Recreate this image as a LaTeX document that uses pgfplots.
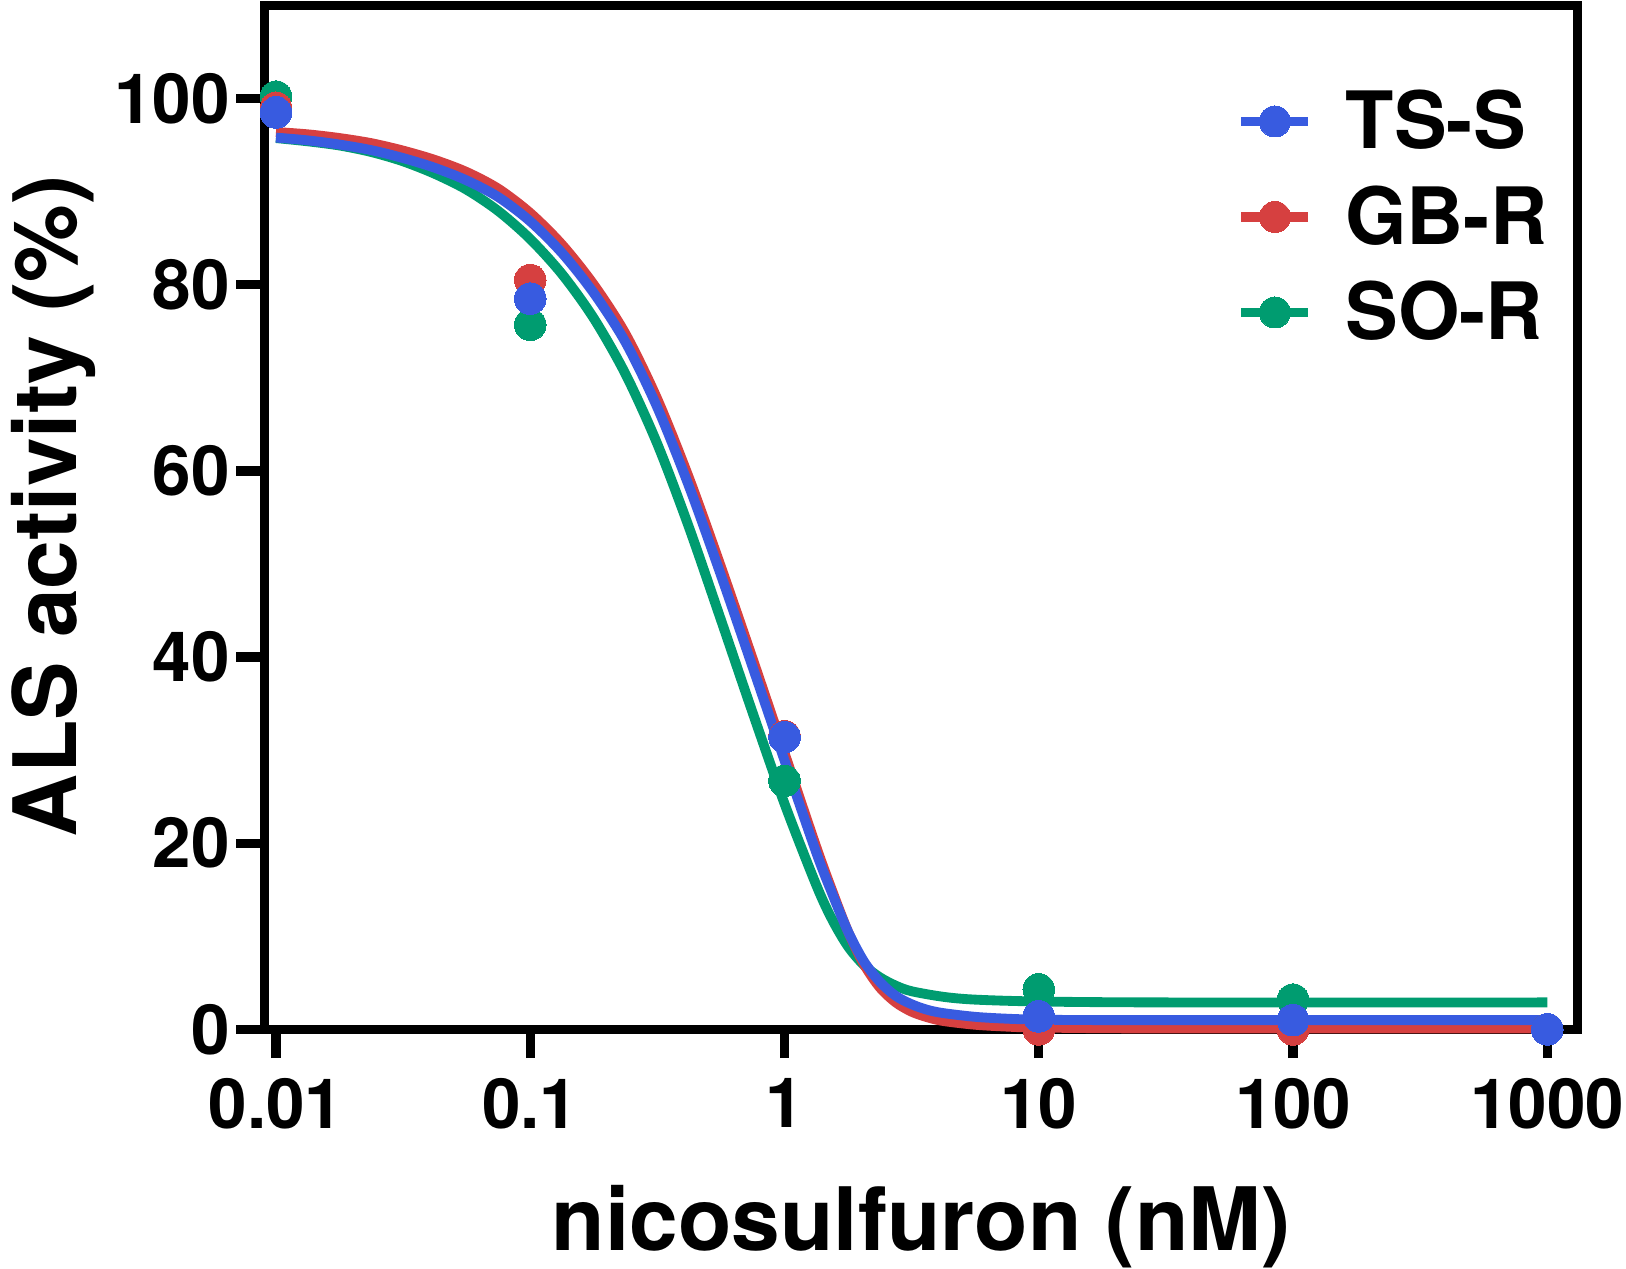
\documentclass[border=0pt]{standalone}
\usepackage{fontspec}
\setmainfont{TeX Gyre Heros}
\usepackage{pgfplots}
\pgfplotsset{compat=1.18}

\definecolor{tsblue}{RGB}{56,91,224}
\definecolor{gbred}{RGB}{214,64,64}
\definecolor{sogreen}{RGB}{0,156,112}

% fitted curves
\pgfplotstableread{
x y
0.01 95.8
0.013335 95.5
0.017783 95.05
0.023714 94.45
0.031623 93.6
0.04217 92.55
0.056234 91.2
0.074989 89.4
0.1 86.8
0.13335 83.4
0.17783 79.1
0.23714 73.8
0.31623 66.8
0.4217 58.3
0.56234 48.8
0.74989 38.9
1 28.9
1.3335 19.0
1.5399 14.6
1.7783 10.5
2.0535 7.3
2.3714 5.1
2.7384 3.6
3.1623 2.7
3.6517 2.1
4.217 1.75
5.6234 1.35
7.4989 1.15
10 1.05
17.783 1.0
100 1.0
1000 1.0
}\fitts
\pgfplotstableread{
x y
0.01 96.4
0.013335 96.15
0.017783 95.75
0.023714 95.2
0.031623 94.4
0.04217 93.4
0.056234 92.1
0.074989 90.3
0.1 87.7
0.13335 84.3
0.17783 80.0
0.23714 74.7
0.31623 67.7
0.4217 59.2
0.56234 49.7
0.74989 39.8
1 29.7
1.3335 19.6
1.5399 14.9
1.7783 10.5
2.0535 7.0
2.3714 4.5
2.7384 2.9
3.1623 1.9
3.6517 1.3
4.217 0.9
5.6234 0.5
7.4989 0.3
10 0.2
31.623 0.1
1000 0.1
}\fitgb
\pgfplotstableread{
x y
0.01 95.75
0.013335 95.4
0.017783 94.95
0.023714 94.25
0.031623 93.25
0.04217 91.9
0.056234 90.2
0.074989 87.9
0.1 84.9
0.13335 81.13
0.17783 76.38
0.23714 70.38
0.31623 62.88
0.4217 53.88
0.56234 44.0
0.74989 34.0
1 24.25
1.3335 15.5
1.5399 11.8
1.7783 8.9
2.0535 6.9
2.3714 5.6
2.7384 4.7
3.1623 4.1
4.217 3.5
5.6234 3.2
10 3.0
31.623 2.9
1000 2.9
}\fitso

\begin{document}
\begin{tikzpicture}
\begin{axis}[
  set layers,
  scale only axis,
  width=131.28mm, height=102.4mm,
  xmode=log,
  xmin=0.009028, xmax=1315,
  ymin=0, ymax=110,
  clip=false,
  xtick={0.01,0.1,1,10,100,1000},
  xticklabels={0.01,0.1,1,10,100,1000},
  ytick={0,20,40,60,80,100},
  yticklabels={0,20,40,60,80,100},
  xminorticks=false,
  xtick pos=bottom, ytick pos=left,
  tick align=outside,
  major tick length=2.87mm,
  axis line style={line width=2.65pt},
  every tick/.style={black, line width=2.65pt},
  ticklabel style={font=\fontsize{19.7}{20}\selectfont\bfseries},
  xticklabel style={yshift=-0.75mm},
  yticklabel style={xshift=0.6mm},
  every axis x label/.style={at={([yshift=-22.15mm]axis description cs:0.5,0)}, anchor=base},
  every axis y label/.style={at={([xshift=-18.77mm]axis description cs:0,0.5107)}, rotate=90, anchor=base},
  label style={font=\fontsize{24.9}{26}\selectfont\bfseries},
  xlabel={nicosulfuron (nM)},
  ylabel={ALS activity (\%)},
  legend style={at={(0.7397,0.9142)}, anchor=north west, draw=none, fill=none,
    inner sep=0pt, row sep=4.05mm,
    font=\fontsize{22.5}{22.5}\selectfont\bfseries,
    nodes={inner sep=0pt, text height=5.5mm, text depth=0pt},
    cells={anchor=west}},
  legend image code/.code={%
    \draw[mark repeat=2,mark phase=2,#1] plot coordinates {(0mm,0mm)(3.35mm,0mm)(6.7mm,0mm)};},
  every axis plot/.append style={line width=2.8pt},
]
\addlegendimage{tsblue, mark=*, mark size=1.55mm, mark options={line width=0pt, draw=tsblue, fill=tsblue}}
\addlegendentry{\hspace{3.2mm}TS-S}
\addlegendimage{gbred, mark=*, mark size=1.55mm, mark options={line width=0pt, draw=gbred, fill=gbred}}
\addlegendentry{\hspace{3.2mm}GB-R}
\addlegendimage{sogreen, mark=*, mark size=1.55mm, mark options={line width=0pt, draw=sogreen, fill=sogreen}}
\addlegendentry{\hspace{3.2mm}SO-R}

\addplot[sogreen, smooth, forget plot] table {\fitso};
\addplot[gbred, smooth, forget plot] table {\fitgb};
\addplot[tsblue, smooth, forget plot] table {\fitts};

\addplot[only marks, mark=*, color=sogreen, mark size=1.58mm, mark options={line width=0pt, draw=sogreen, fill=sogreen}, forget plot] coordinates {
(0.01,100.2) (0.1,75.7) (1,26.7) (10,4.3) (100,3.2) (1000,0)};
\addplot[only marks, mark=*, color=gbred, mark size=1.58mm, mark options={line width=0pt, draw=gbred, fill=gbred}, forget plot] coordinates {
(0.01,99.0) (0.1,80.5) (1,31.5) (10,0) (100,0) (1000,0)};
\addplot[only marks, mark=*, color=tsblue, mark size=1.58mm, mark options={line width=0pt, draw=tsblue, fill=tsblue}, forget plot] coordinates {
(0.01,98.5) (0.1,78.5) (1,31.4) (10,1.4) (100,1.0) (1000,0)};

\coordinate (bl) at (rel axis cs:0,0);
\coordinate (tr) at (rel axis cs:1,1);
\end{axis}
\pgfresetboundingbox
\path[use as bounding box] ([xshift=-26.47mm,yshift=-23.95mm]bl) rectangle ([xshift=4.85mm,yshift=0.54mm]tr);
\end{tikzpicture}
\end{document}
